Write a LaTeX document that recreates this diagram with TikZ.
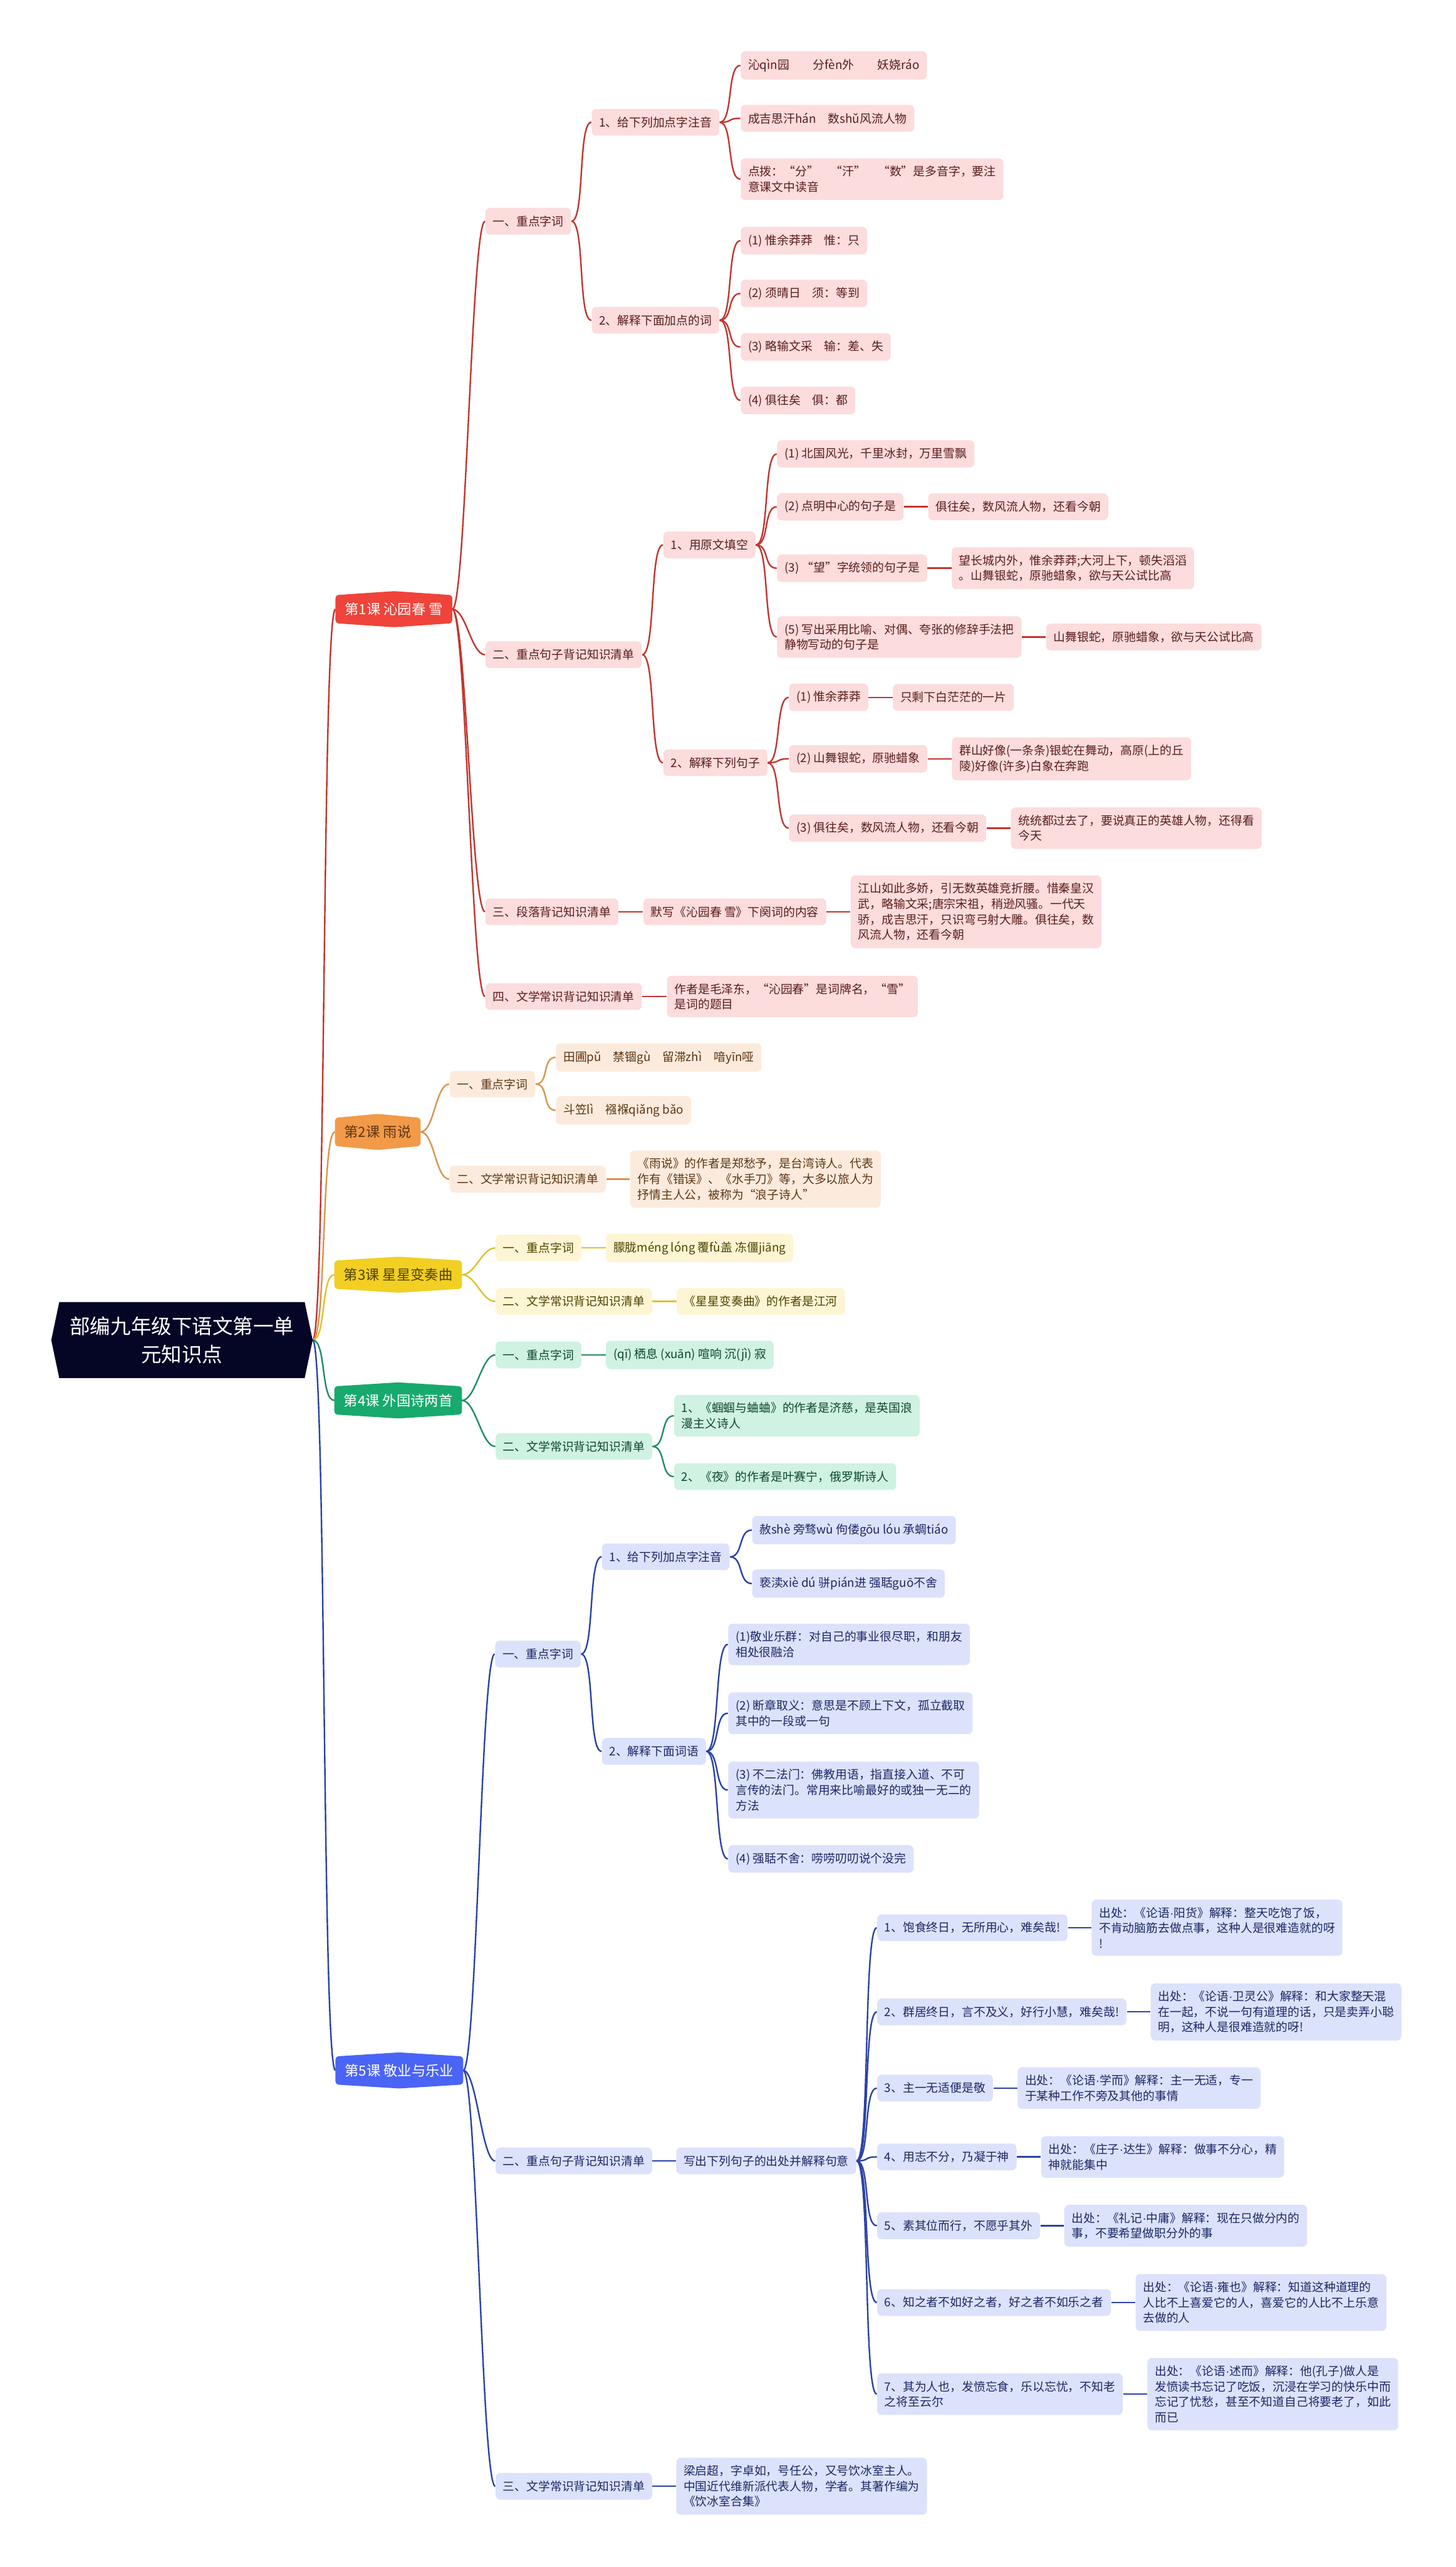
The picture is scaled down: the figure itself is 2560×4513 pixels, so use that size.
\documentclass[tikz,border=0pt]{standalone}
\usepackage{fontspec}
\setmainfont{Noto Sans CJK SC}
\newfontfamily\latinfont{Liberation Sans}
\usepackage{xcolor}
\usepackage{tikz}
\usetikzlibrary{positioning, calc, backgrounds}

\definecolor{rootfill}{HTML}{050526}
\definecolor{redmain}{HTML}{F0433A}
\definecolor{redfill}{HTML}{FCDCDC}
\definecolor{redtext}{HTML}{5A1C1C}
\definecolor{redline}{HTML}{C2352E}
\definecolor{orgmain}{HTML}{F29A48}
\definecolor{orgfill}{HTML}{FCEBDD}
\definecolor{orgtext}{HTML}{5E3512}
\definecolor{orgline}{HTML}{DA944C}
\definecolor{ylwmain}{HTML}{F2CF22}
\definecolor{ylwfill}{HTML}{FDF5D4}
\definecolor{ylwtext}{HTML}{4F4200}
\definecolor{ylwline}{HTML}{E0C12C}
\definecolor{grnmain}{HTML}{17AA6C}
\definecolor{grnfill}{HTML}{CFF2E2}
\definecolor{grntext}{HTML}{0E4630}
\definecolor{grnline}{HTML}{1F8C66}
\definecolor{blumain}{HTML}{4A64F6}
\definecolor{blufill}{HTML}{DCE2FB}
\definecolor{blutext}{HTML}{1C2766}
\definecolor{bluline}{HTML}{2B42A6}

% narrow middle dot
\newcommand{\mdot}{{\latinfont ·}}
% lesson badge: box with a low peak on top and bottom
\newcommand{\lessonshape}[2]{%
  \fill[#2, rounded corners=1.5pt] ($(#1.north west)+(0,7)$) -- (#1.north) -- ($(#1.north east)+(0,7)$)
    -- ($(#1.south east)+(0,-7)$) -- (#1.south) -- ($(#1.south west)+(0,-7)$) -- cycle;}
% curved branch from parent to child
\newcommand{\branch}[3]{\draw[#1] (#2.east) .. controls +(24,0) and +(-24,0) .. (#3.west);}

\begin{document}
\begin{tikzpicture}[
    x=0.01cm, y=-0.01cm,
    rootnode/.style={inner sep=0pt, minimum width=4.58cm, minimum height=1.32cm, align=center, text=white, font=\fontsize{10.2}{14}\selectfont},
    lesson/.style={anchor=west, inner xsep=4.5pt, inner ysep=0pt, minimum height=0.62cm, font=\fontsize{7}{8}\selectfont},
    item/.style={anchor=west, rectangle, rounded corners=2.3pt, inner xsep=3.7pt, inner ysep=3.8pt, minimum height=0.47cm, align=left, font=\fontsize{5.9}{7.7}\selectfont},
    redbox/.style={item, fill=redfill, text=redtext},
    orgbox/.style={item, fill=orgfill, text=orgtext},
    ylwbox/.style={item, fill=ylwfill, text=ylwtext},
    grnbox/.style={item, fill=grnfill, text=grntext},
    blubox/.style={item, fill=blufill, text=blutext},
    redlink/.style={draw=redline, line width=0.75pt},
    orglink/.style={draw=orgline, line width=0.75pt},
    ylwlink/.style={draw=ylwline, line width=0.75pt},
    grnlink/.style={draw=grnline, line width=0.75pt},
    blulink/.style={draw=bluline, line width=0.75pt},
]
    \useasboundingbox (0,0) rectangle (2560,4513);

    % Root
    \node[rootnode] (root) at (320,2356) {部编九年级下语文第一单\\元知识点};

    % Lessons
    \node[lesson, text=white] (les1) at (590,1071) {第1课 沁园春 雪};
    \node[lesson, text=orgtext] (les2) at (589,1990) {第2课 雨说};
    \node[lesson, text=ylwtext] (les3) at (588,2241) {第3课 星星变奏曲};
    \node[lesson, text=white] (les4) at (588,2462) {第4课 外国诗两首};
    \node[lesson, text=white] (les5) at (590,3640) {第5课 敬业与乐业};

    % Lesson 1
    \node[redbox] (a1) at (853,389) {一、重点字词};
    \node[redbox] (a11) at (1040,215) {1、给下列加点字注音};
    \node[redbox] (a111) at (1302,115) {沁qìn园\qquad 分fèn外\qquad 妖娆ráo};
    \node[redbox] (a112) at (1302,208) {成吉思汗hán\quad 数shǔ风流人物};
    \node[redbox] (a113) at (1302,315) {点拨：“分”\quad “汗”\quad “数”是多音字，要注\\意课文中读音};
    \node[redbox] (a12) at (1040,563) {2、解释下面加点的词};
    \node[redbox] (a121) at (1302,423) {(1) 惟余莽莽\quad 惟：只};
    \node[redbox] (a122) at (1302,516) {(2) 须晴日\quad 须：等到};
    \node[redbox] (a123) at (1302,610) {(3) 略输文采\quad 输：差、失};
    \node[redbox] (a124) at (1302,704) {(4) 俱往矣\quad 俱：都};

    \node[redbox] (a2) at (853,1151) {二、重点句子背记知识清单};
    \node[redbox] (a21) at (1166,958) {1、用原文填空};
    \node[redbox] (a211) at (1366,798) {(1) 北国风光，千里冰封，万里雪飘};
    \node[redbox] (a212) at (1366,891) {(2) 点明中心的句子是};
    \node[redbox, right=0.42cm of a212] (a212x) {俱往矣，数风流人物，还看今朝};
    \node[redbox] (a213) at (1366,999) {(3) “望”字统领的句子是};
    \node[redbox, right=0.42cm of a213] (a213x) {望长城内外，惟余莽莽;大河上下，顿失滔滔\\。山舞银蛇，原驰蜡象，欲与天公试比高};
    \node[redbox] (a214) at (1366,1120) {(5) 写出采用比喻、对偶、夸张的修辞手法把\\静物写动的句子是};
    \node[redbox, right=0.42cm of a214] (a214x) {山舞银蛇，原驰蜡象，欲与天公试比高};
    \node[redbox] (a22) at (1166,1341) {2、解释下列句子};
    \node[redbox] (a221) at (1387,1226) {(1) 惟余莽莽};
    \node[redbox, right=0.42cm of a221] (a221x) {只剩下白茫茫的一片};
    \node[redbox] (a222) at (1387,1334) {(2) 山舞银蛇，原驰蜡象};
    \node[redbox, right=0.42cm of a222] (a222x) {群山好像(一条条)银蛇在舞动，高原(上的丘\\陵)好像(许多)白象在奔跑};
    \node[redbox] (a223) at (1387,1456) {(3) 俱往矣，数风流人物，还看今朝};
    \node[redbox, right=0.42cm of a223] (a223x) {统统都过去了，要说真正的英雄人物，还得看\\今天};

    \node[redbox] (a3) at (853,1603) {三、段落背记知识清单};
    \node[redbox, right=0.43cm of a3] (a31) {默写《沁园春 雪》下阕词的内容};
    \node[redbox, right=0.42cm of a31] (a311) {江山如此多娇，引无数英雄竞折腰。惜秦皇汉\\武，略输文采;唐宗宋祖，稍逊风骚。一代天\\骄，成吉思汗，只识弯弓射大雕。俱往矣，数\\风流人物，还看今朝};
    \node[redbox] (a4) at (853,1752) {四、文学常识背记知识清单};
    \node[redbox, right=0.43cm of a4] (a41) {作者是毛泽东，“沁园春”是词牌名，“雪”\\是词的题目};

    % Lesson 2
    \node[orgbox] (b1) at (790,1906) {一、重点字词};
    \node[orgbox] (b11) at (977,1859) {田圃pǔ\quad 禁锢gù\quad 留滞zhì\quad 喑yīn哑};
    \node[orgbox] (b12) at (977,1952) {斗笠lì\quad 襁褓qiǎng bǎo};
    \node[orgbox] (b2) at (790,2073) {二、文学常识背记知识清单};
    \node[orgbox, right=0.41cm of b2] (b21) {《雨说》的作者是郑愁予，是台湾诗人。代表\\作有《错误》、《水手刀》等，大多以旅人为\\抒情主人公，被称为“浪子诗人”};

    % Lesson 3
    \node[ylwbox] (c1) at (871,2194) {一、重点字词};
    \node[ylwbox, right=0.42cm of c1] (c11) {朦胧méng lóng 覆fù盖 冻僵jiāng};
    \node[ylwbox] (c2) at (871,2288) {二、文学常识背记知识清单};
    \node[ylwbox, right=0.42cm of c2] (c21) {《星星变奏曲》的作者是江河};

    % Lesson 4
    \node[grnbox] (d1) at (871,2382) {一、重点字词};
    \node[grnbox, right=0.42cm of d1] (d11) {(qī) 栖息 (xuān) 喧响 沉(jì) 寂};
    \node[grnbox] (d2) at (871,2543) {二、文学常识背记知识清单};
    \node[grnbox] (d21) at (1185,2489) {1、《蝈蝈与蛐蛐》的作者是济慈，是英国浪\\漫主义诗人};
    \node[grnbox] (d22) at (1185,2596) {2、《夜》的作者是叶赛宁，俄罗斯诗人};

    % Lesson 5
    \node[blubox] (e1) at (870,2908) {一、重点字词};
    \node[blubox] (e11) at (1058,2737) {1、给下列加点字注音};
    \node[blubox] (e111) at (1322,2690) {赦shè 旁骛wù 佝偻gōu lóu 承蜩tiáo};
    \node[blubox] (e112) at (1322,2784) {亵渎xiè dú 骈pián进 强聒guō不舍};
    \node[blubox] (e12) at (1058,3079) {2、解释下面词语};
    \node[blubox] (e121) at (1280,2891) {(1)敬业乐群：对自己的事业很尽职，和朋友\\相处很融洽};
    \node[blubox] (e122) at (1280,3012) {(2) 断章取义：意思是不顾上下文，孤立截取\\其中的一段或一句};
    \node[blubox] (e123) at (1280,3147) {(3) 不二法门：佛教用语，指直接入道、不可\\言传的法门。常用来比喻最好的或独一无二的\\方法};
    \node[blubox] (e124) at (1280,3268) {(4) 强聒不舍：唠唠叨叨说个没完};

    \node[blubox] (e2) at (871,3799) {二、重点句子背记知识清单};
    \node[blubox, right=0.41cm of e2] (e21) {写出下列句子的出处并解释句意};
    \node[blubox] (e211) at (1542,3389) {1、饱食终日，无所用心，难矣哉!};
    \node[blubox, right=0.41cm of e211] (e211x) {出处：《论语\mdot 阳货》解释：整天吃饱了饭，\\不肯动脑筋去做点事，这种人是很难造就的呀\\!};
    \node[blubox] (e212) at (1542,3537) {2、群居终日，言不及义，好行小慧，难矣哉!};
    \node[blubox, right=0.41cm of e212] (e212x) {出处：《论语\mdot 卫灵公》解释：和大家整天混\\在一起，不说一句有道理的话，只是卖弄小聪\\明，这种人是很难造就的呀!};
    \node[blubox] (e213) at (1542,3671) {3、主一无适便是敬};
    \node[blubox, right=0.42cm of e213] (e213x) {出处：《论语\mdot 学而》解释：主一无适，专一\\于某种工作不旁及其他的事情};
    \node[blubox] (e214) at (1542,3792) {4、用志不分，乃凝于神};
    \node[blubox, right=0.42cm of e214] (e214x) {出处：《庄子\mdot 达生》解释：做事不分心，精\\神就能集中};
    \node[blubox] (e215) at (1542,3913) {5、素其位而行，不愿乎其外};
    \node[blubox, right=0.41cm of e215] (e215x) {出处：《礼记\mdot 中庸》解释：现在只做分内的\\事，不要希望做职分外的事};
    \node[blubox] (e216) at (1542,4048) {6、知之者不如好之者，好之者不如乐之者};
    \node[blubox, right=0.42cm of e216] (e216x) {出处：《论语\mdot 雍也》解释：知道这种道理的\\人比不上喜爱它的人，喜爱它的人比不上乐意\\去做的人};
    \node[blubox] (e217) at (1542,4209) {7、其为人也，发愤忘食，乐以忘忧，不知老\\之将至云尔};
    \node[blubox, right=0.42cm of e217] (e217x) {出处：《论语\mdot 述而》解释：他(孔子)做人是\\发愤读书忘记了吃饭，沉浸在学习的快乐中而\\忘记了忧愁，甚至不知道自己将要老了，如此\\而已};
    \node[blubox] (e3) at (871,4371) {三、文学常识背记知识清单};
    \node[blubox, right=0.41cm of e3] (e31) {梁启超，字卓如，号任公，又号饮冰室主人。\\中国近代维新派代表人物，学者。其著作编为\\《饮冰室合集》};

    \begin{scope}[on background layer]
        % Branches
        \branch{redlink}{root}{les1}
        \branch{orglink}{root}{les2}
        \branch{ylwlink}{root}{les3}
        \branch{grnlink}{root}{les4}
        \branch{blulink}{root}{les5}
        \foreach \p/\c in {les1/a1, les1/a2, les1/a3, les1/a4, a1/a11, a1/a12,
            a11/a111, a11/a112, a11/a113, a12/a121, a12/a122, a12/a123, a12/a124,
            a2/a21, a2/a22, a21/a211, a21/a212, a21/a213, a21/a214,
            a212/a212x, a213/a213x, a214/a214x, a22/a221, a22/a222, a22/a223,
            a221/a221x, a222/a222x, a223/a223x, a3/a31, a31/a311, a4/a41}
            {\branch{redlink}{\p}{\c}}
        \foreach \p/\c in {les2/b1, les2/b2, b1/b11, b1/b12, b2/b21}
            {\branch{orglink}{\p}{\c}}
        \foreach \p/\c in {les3/c1, les3/c2, c1/c11, c2/c21}
            {\branch{ylwlink}{\p}{\c}}
        \foreach \p/\c in {les4/d1, les4/d2, d1/d11, d2/d21, d2/d22}
            {\branch{grnlink}{\p}{\c}}
        \foreach \p/\c in {les5/e1, les5/e2, les5/e3, e1/e11, e1/e12,
            e11/e111, e11/e112, e12/e121, e12/e122, e12/e123, e12/e124,
            e2/e21, e21/e211, e21/e212, e21/e213, e21/e214, e21/e215, e21/e216, e21/e217,
            e211/e211x, e212/e212x, e213/e213x, e214/e214x, e215/e215x, e216/e216x, e217/e217x,
            e3/e31}
            {\branch{blulink}{\p}{\c}}

        % Badges
        \fill[rootfill] (root.west) -- ($(root.north west)+(14,0)$) -- ($(root.north east)+(-14,0)$)
            -- (root.east) -- ($(root.south east)+(-14,0)$) -- ($(root.south west)+(14,0)$) -- cycle;
        \lessonshape{les1}{redmain}
        \lessonshape{les2}{orgmain}
        \lessonshape{les3}{ylwmain}
        \lessonshape{les4}{grnmain}
        \lessonshape{les5}{blumain}
    \end{scope}
\end{tikzpicture}
\end{document}
